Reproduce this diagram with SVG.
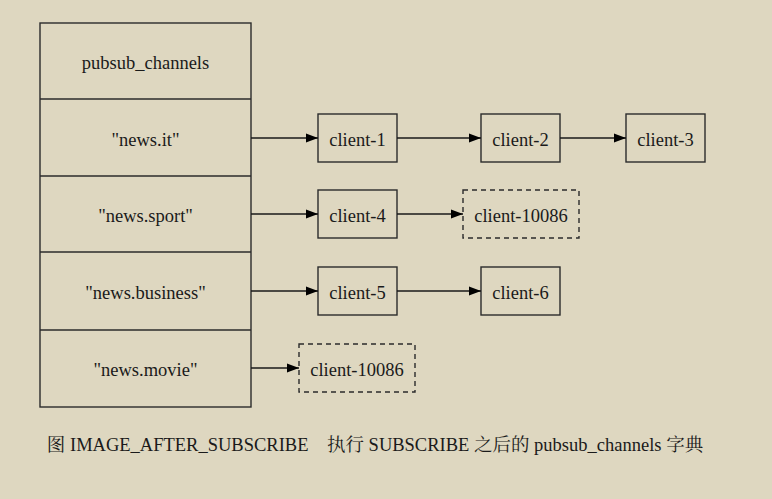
<svg xmlns="http://www.w3.org/2000/svg" width="772" height="499" viewBox="0 0 772 499">
<style>
text{font-family:'Liberation Serif','Times New Roman','Noto Serif CJK SC','Noto Sans CJK SC',serif;font-size:18.5px;fill:#1a1a1a;text-anchor:middle}
.box{fill:none;stroke:#2b2b2b;stroke-width:1.4}
.dash{fill:none;stroke:#2b2b2b;stroke-width:1.4;stroke-dasharray:5,4}
.edge{stroke:#1a1a1a;stroke-width:1.3;fill:none;marker-end:url(#arr)}
</style>
<defs>
<marker id="arr" markerWidth="12" markerHeight="10" refX="12" refY="5" orient="auto" markerUnits="userSpaceOnUse">
<path d="M0,0.5 L12,5 L0,9.5 Z" fill="#000"/>
</marker>
</defs>
<rect width="772" height="499" fill="#ded7c0"/>
<g id="pubsub_channels">
<rect class="box" x="40" y="23" width="211" height="384"/>
<line class="box" x1="40" y1="99" x2="251" y2="99"/>
<line class="box" x1="40" y1="176" x2="251" y2="176"/>
<line class="box" x1="40" y1="252" x2="251" y2="252"/>
<line class="box" x1="40" y1="330" x2="251" y2="330"/>
<text x="145.5" y="68.5">pubsub_channels</text>
<text x="145.5" y="145.5">"news.it"</text>
<text x="145.5" y="221.5">"news.sport"</text>
<text x="145.5" y="298.5">"news.business"</text>
<text x="145.5" y="375.5">"news.movie"</text>
</g>
<g id="client-1"><rect class="box" x="318" y="114" width="79" height="48"/><text x="357.5" y="145.5">client-1</text></g>
<g id="client-2"><rect class="box" x="481" y="114" width="79" height="48"/><text x="520.5" y="145.5">client-2</text></g>
<g id="client-3"><rect class="box" x="626" y="114" width="79" height="48"/><text x="665.5" y="145.5">client-3</text></g>
<g id="client-4"><rect class="box" x="318" y="190" width="79" height="48"/><text x="357.5" y="221.5">client-4</text></g>
<g id="client-10086-a"><rect class="dash" x="463" y="190" width="116" height="48"/><text x="521" y="221.5">client-10086</text></g>
<g id="client-5"><rect class="box" x="318" y="267" width="79" height="48"/><text x="357.5" y="298.5">client-5</text></g>
<g id="client-6"><rect class="box" x="481" y="267" width="79" height="48"/><text x="520.5" y="298.5">client-6</text></g>
<g id="client-10086-b"><rect class="dash" x="299" y="344" width="116" height="48"/><text x="357" y="375.5">client-10086</text></g>
<g id="connectors">
<line class="edge" x1="251" y1="138" x2="318" y2="138"/>
<line class="edge" x1="397" y1="138" x2="481" y2="138"/>
<line class="edge" x1="560" y1="138" x2="626" y2="138"/>
<line class="edge" x1="251" y1="214" x2="318" y2="214"/>
<line class="edge" x1="397" y1="214" x2="463" y2="214"/>
<line class="edge" x1="251" y1="291" x2="318" y2="291"/>
<line class="edge" x1="397" y1="291" x2="481" y2="291"/>
<line class="edge" x1="251" y1="368" x2="299" y2="368"/>
</g>
<text x="375" y="451">图 IMAGE_AFTER_SUBSCRIBE　执行 SUBSCRIBE 之后的 pubsub_channels 字典</text>
</svg>
